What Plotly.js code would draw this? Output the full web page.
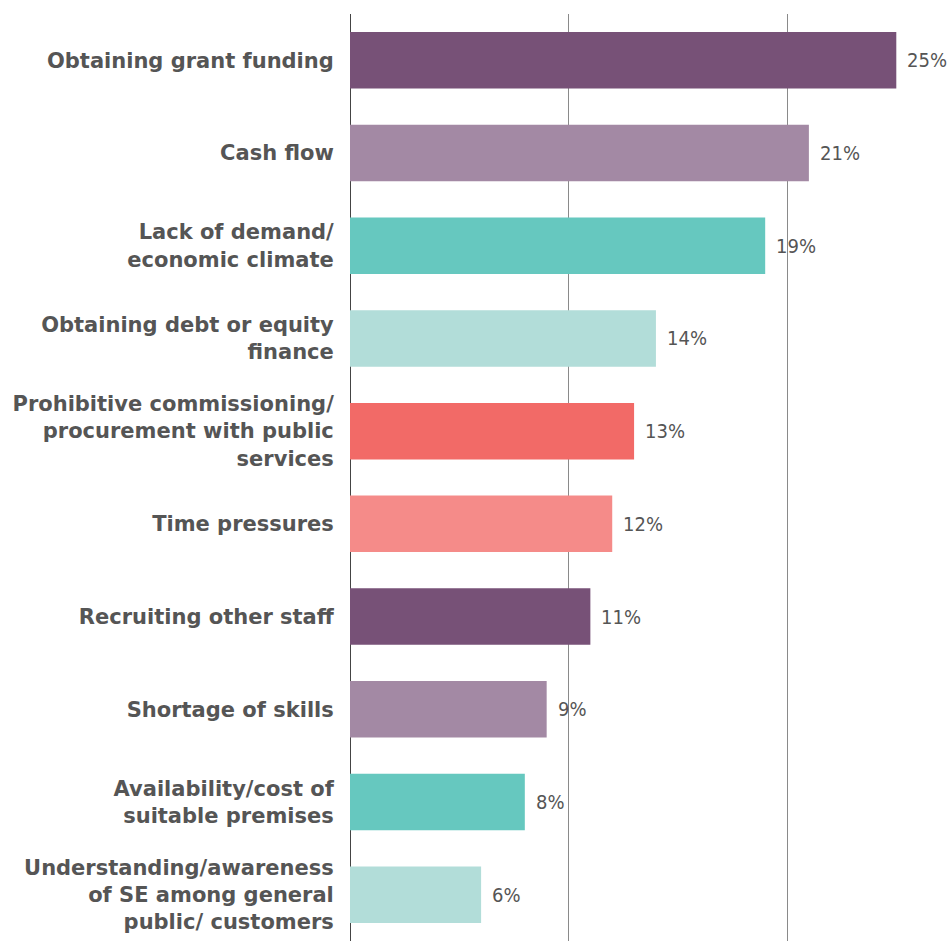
<!DOCTYPE html>
<html><head><meta charset="utf-8">
<script src="https://cdn.plot.ly/plotly-3.0.1.min.js"></script>
<style>html,body{margin:0;padding:0;background:#fff}</style>
</head><body><div id="chart" style="width:947px;height:941px"></div>
<script>
const categories = [
  "Obtaining grant funding",
  "Cash flow",
  "Lack of demand/<br>economic climate",
  "Obtaining debt or equity<br>finance",
  "Prohibitive commissioning/<br>procurement with public<br>services",
  "Time pressures",
  "Recruiting other staff",
  "Shortage of skills",
  "Availability/cost of<br>suitable premises",
  "Understanding/awareness<br>of SE among general<br>public/ customers"
];
const values = [25, 21, 19, 14, 13, 12, 11, 9, 8, 6];
const valueLabels = ["25%", "21%", "19%", "14%", "13%", "12%", "11%", "9%", "8%", "6%"];
const colors = ["#775177", "#a389a4", "#66c8bf", "#b2ddd9", "#f26a67", "#f58b89", "#775177", "#a389a4", "#66c8bf", "#b2ddd9"];

const trace = {
  type: "bar", orientation: "h",
  x: values, y: categories,
  marker: {color: colors, line: {width: 0}},
  hoverinfo: "none"
};
const annotations = values.map((v, i) => ({
  x: v, y: categories[i], xref: "x", yref: "y",
  text: valueLabels[i], showarrow: false, xanchor: "left", xshift: 9,
  font: {family: "DejaVu Sans Condensed, sans-serif", size: 20, color: "#555", weight: 300}
}));
const layout = {
  width: 947, height: 941,
  margin: {l: 350, r: 0, t: 14, b: 0},
  paper_bgcolor: "#fff", plot_bgcolor: "#fff",
  showlegend: false, bargap: 0.39,
  xaxis: {range: [0, 27.32], showticklabels: false, showgrid: true, gridcolor: "#8a8a8a", gridwidth: 1,
          tickvals: [0, 10, 20], zeroline: true, zerolinecolor: "#444", zerolinewidth: 1, fixedrange: true},
  yaxis: {autorange: "reversed", showgrid: false, zeroline: false, showline: false,
          ticks: "outside", ticklen: 11, tickcolor: "rgba(0,0,0,0)",
          tickfont: {family: "DejaVu Sans, sans-serif", size: 21, color: "#555", weight: "bold"}},
  annotations: annotations
};
Plotly.newPlot("chart", [trace], layout, {displayModeBar: false, staticPlot: true});
</script></body></html>
